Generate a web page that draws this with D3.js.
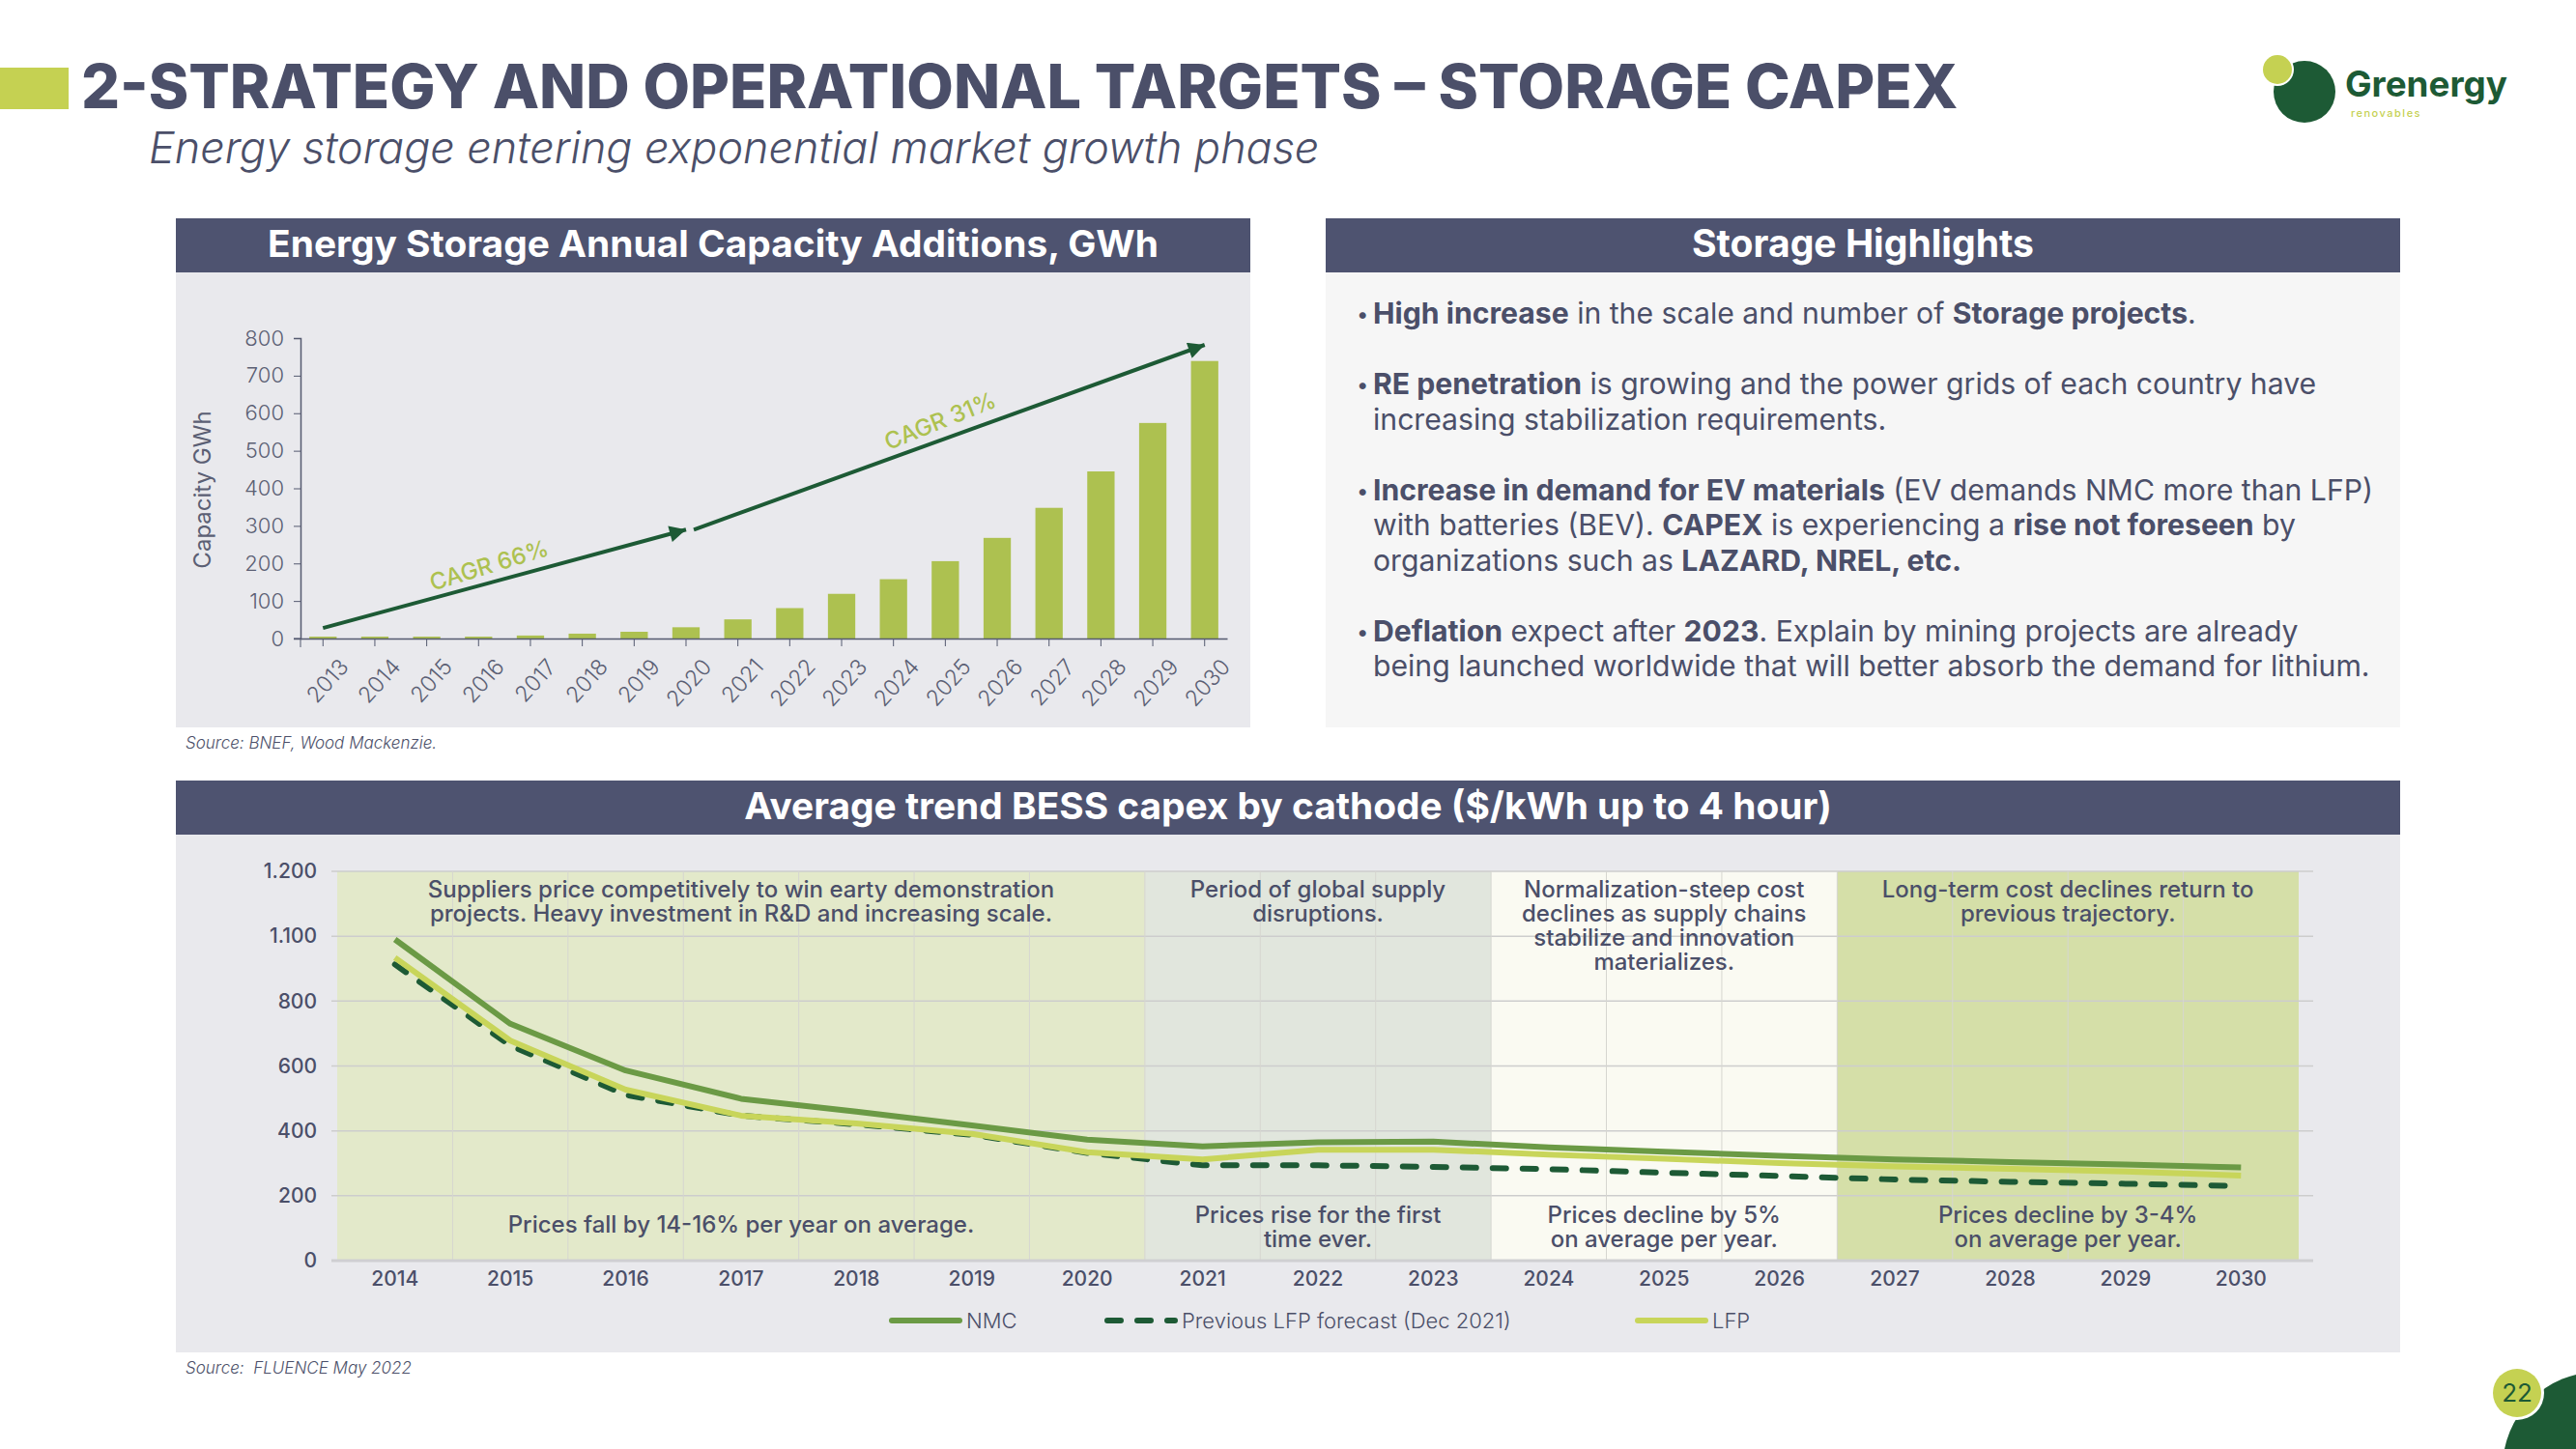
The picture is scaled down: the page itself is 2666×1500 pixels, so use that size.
<!DOCTYPE html>
<html>
<head>
<meta charset="utf-8">
<script src="https://cdn.jsdelivr.net/npm/d3@7"></script>
<style>
  html, body { margin: 0; padding: 0; background: #ffffff; }
  svg { display: block; }
  text { font-family: Inter, Lato, "Open Sans", sans-serif; white-space: pre; }
</style>
</head>
<body>
<svg id="chart" width="2666" height="1500"></svg>
<script>
// ---------------- DATA ----------------
const pageTitle = "2-STRATEGY AND OPERATIONAL TARGETS – STORAGE CAPEX";
const pageSubtitle = "Energy storage entering exponential market growth phase";

// Bar chart: Energy Storage Annual Capacity Additions, GWh
const barTitle = "Energy Storage Annual Capacity Additions, GWh";
const barYears = ["2013","2014","2015","2016","2017","2018","2019","2020","2021","2022","2023","2024","2025","2026","2027","2028","2029","2030"];
const barCapacity = [5, 5, 5, 5, 8, 13, 18, 30, 51, 81, 119, 158, 206, 268, 348, 445, 574, 739];
const barYTicks = [0, 100, 200, 300, 400, 500, 600, 700, 800];
const barYLabel = "Capacity GWh";
const cagrArrowFrom = [[2013, 28], [2020.15, 290]];
const cagrArrowTo = [[2020, 290], [2030, 782]];
const cagrLabels = ["CAGR 66%", "CAGR 31%"];
const cagrLabelPos = [[2016.2, 195], [2024.9, 580]];
const barSource = "Source: BNEF, Wood Mackenzie.";

// Highlights
const highlightsTitle = "Storage Highlights";
const highlights = [
  [[["High increase", 1], [" in the scale and number of ", 0], ["Storage projects", 1], [".", 0]]],
  [[["RE penetration", 1], [" is growing and the power grids of each country have", 0]],
   [["increasing stabilization requirements.", 0]]],
  [[["Increase in demand for EV materials", 1], [" (EV demands NMC more than LFP)", 0]],
   [["with batteries (BEV). ", 0], ["CAPEX", 1], [" is experiencing a ", 0], ["rise not foreseen", 1], [" by", 0]],
   [["organizations such as ", 0], ["LAZARD, NREL, etc.", 1]]],
  [[["Deflation", 1], [" expect after ", 0], ["2023", 1], [". Explain by mining projects are already", 0]],
   [["being launched worldwide that will better absorb the demand for lithium.", 0]]]
];

// Line chart: Average trend BESS capex by cathode
const lineTitle = "Average trend BESS capex by cathode ($/kWh up to 4 hour)";
const lineYears = ["2014","2015","2016","2017","2018","2019","2020","2021","2022","2023","2024","2025","2026","2027","2028","2029","2030"];
const nmc     = [990, 730, 586, 499, 459, 417, 373, 352, 365, 367, 349, 336, 323, 312, 304, 296, 287];
const lfp     = [934, 678, 527, 447, 423, 391, 334, 312, 342, 342, 327, 314, 301, 290, 283, 275, 262];
const prevLfp = [913, 663, 511, 447, 420, 388, 332, 294, 294, 289, 282, 271, 261, 250, 243, 237, 230];
const lineYTickValues = [0, 200, 400, 600, 800, 1000, 1200];
const lineYTickLabels = ["0", "200", "400", "600", "800", "1.100", "1.200"];
const seriesNames = ["NMC", "Previous LFP forecast (Dec 2021)", "LFP"];
const periodStart = ["2014", "2021", "2024", "2027"];
const periodEnd   = ["2020", "2023", "2026", "2030"];
const periodTopText = [
  ["Suppliers price competitively to win earty demonstration", "projects. Heavy investment in R&D and increasing scale."],
  ["Period of global supply", "disruptions."],
  ["Normalization-steep cost", "declines as supply chains", "stabilize and innovation", "materializes."],
  ["Long-term cost declines return to", "previous trajectory."]
];
const periodBottomText = [
  ["Prices fall by 14-16% per year on average."],
  ["Prices rise for the first", "time ever."],
  ["Prices decline by 5%", "on average per year."],
  ["Prices decline by 3-4%", "on average per year."]
];
const lineSource = "Source:  FLUENCE May 2022";
const pageNumber = "22";

// ---------------- STYLE ----------------
const C = {
  slate: "#4b4f69", header: "#4e5370", panel: "#e9e9ed", panel2: "#f6f6f6",
  lime: "#c5d152", barLime: "#adc150", darkGreen: "#1d5a35", midGreen: "#6b9a45",
  lfp: "#c8d55a", grid: "#cdcdcd", axisText: "#5b5f74",
  periods: ["#e3e9ca", "#e1e6dd", "#fafaf2", "#d5dfa8"]
};

const svg = d3.select("#chart");
svg.append("rect").attr("width", 2666).attr("height", 1500).attr("fill", "#fff");

function fitWidth(sel, target) {
  const w = sel.node().getComputedTextLength();
  const fs = parseFloat(sel.attr("font-size"));
  sel.attr("font-size", fs * target / w);
  return fs * target / w;
}

// ---------------- PAGE HEADER ----------------
svg.append("rect").attr("x", 0).attr("y", 70).attr("width", 71).attr("height", 43).attr("fill", C.lime);
const tt = svg.append("text").attr("x", 84).attr("y", 112).attr("font-size", 58)
  .attr("font-weight", 800).attr("fill", C.slate).text(pageTitle);
fitWidth(tt, 1943);
const st = svg.append("text").attr("x", 154).attr("y", 169).attr("font-size", 40)
  .attr("font-weight", 300).attr("font-style", "italic").attr("fill", C.slate).text(pageSubtitle);
fitWidth(st, 1212);

// Logo
svg.append("circle").attr("cx", 2385).attr("cy", 95).attr("r", 32).attr("fill", C.darkGreen);
svg.append("circle").attr("cx", 2357).attr("cy", 72).attr("r", 17).attr("fill", "#fff");
svg.append("circle").attr("cx", 2357).attr("cy", 72).attr("r", 15).attr("fill", C.lime);
const lg = svg.append("text").attr("x", 2427).attr("y", 100).attr("font-size", 34)
  .attr("font-weight", 700).attr("fill", C.darkGreen).text("Grenergy");
fitWidth(lg, 168);
svg.append("text").attr("x", 2433).attr("y", 121).attr("font-size", 11)
  .attr("font-weight", 500).attr("fill", C.lime).attr("letter-spacing", 1.5).text("renovables");

// ---------------- PANELS ----------------
function panel(x, y, w, h, hh, title, bodyColor, titleW) {
  svg.append("rect").attr("x", x).attr("y", y + hh).attr("width", w).attr("height", h - hh).attr("fill", bodyColor);
  svg.append("rect").attr("x", x).attr("y", y).attr("width", w).attr("height", hh).attr("fill", C.header);
  const t = svg.append("text").attr("x", x + w / 2).attr("y", y + hh / 2 + 12).attr("text-anchor", "middle")
    .attr("font-size", 34).attr("font-weight", 700).attr("fill", "#fff").text(title);
  fitWidth(t, titleW);
}
panel(182, 226, 1112, 527, 56, barTitle, C.panel, 922);
panel(1372, 226, 1112, 527, 56, highlightsTitle, C.panel2, 354);
panel(182, 808, 2302, 592, 56, lineTitle, C.panel, 1126);

// ---------------- BAR CHART ----------------
const bx = d3.scaleBand().domain(barYears).range([311, 1270]).paddingInner(0.473).paddingOuter(0.17);
const by = d3.scaleLinear().domain([0, 800]).range([661, 350]);
const yearPos = v => {
  const base = Math.floor(v), frac = v - base;
  return bx(String(base)) + bx.bandwidth() / 2 + frac * bx.step();
};

const gb = svg.append("g");
gb.selectAll("rect.bar").data(barYears).join("rect").attr("class", "bar")
  .attr("x", d => bx(d)).attr("width", bx.bandwidth())
  .attr("y", (d, i) => by(barCapacity[i])).attr("height", (d, i) => by(0) - by(barCapacity[i]))
  .attr("fill", C.barLime);

const yAx = gb.append("g").attr("transform", "translate(311,0)")
  .call(d3.axisLeft(by).tickValues(barYTicks).tickSize(7).tickPadding(10));
yAx.select(".domain").attr("stroke", "#555a70").attr("stroke-width", 1.5);
yAx.selectAll(".tick line").attr("stroke", "#555a70");
yAx.selectAll(".tick text").attr("font-size", 22).attr("font-weight", 300).attr("fill", C.axisText)
  .attr("font-family", "Inter, Lato, sans-serif");

const xAx = gb.append("g").attr("transform", "translate(0,661)")
  .call(d3.axisBottom(bx).tickSize(8).tickSizeOuter(0).tickPadding(8));
xAx.select(".domain").attr("stroke", "#555a70").attr("stroke-width", 1.5);
xAx.selectAll(".tick line").attr("stroke", "#555a70");
xAx.selectAll(".tick text").attr("font-size", 23).attr("font-weight", 300).attr("fill", C.axisText)
  .attr("font-family", "Inter, Lato, sans-serif")
  .attr("text-anchor", "end").attr("dy", "0.35em")
  .attr("transform", "translate(10,14) rotate(-48)");
gb.append("line").attr("x1", 304).attr("x2", 311).attr("y1", 661).attr("y2", 661).attr("stroke", "#555a70");
gb.append("line").attr("x1", 311).attr("x2", 311).attr("y1", 661).attr("y2", 670).attr("stroke", "#555a70");

gb.append("text").attr("transform", "translate(218,507) rotate(-90)").attr("text-anchor", "middle")
  .attr("font-size", 24).attr("font-weight", 400).attr("fill", C.axisText).text(barYLabel);

svg.append("defs").append("marker").attr("id", "arrow").attr("viewBox", "0 0 10 10")
  .attr("refX", 10).attr("refY", 5).attr("markerUnits", "userSpaceOnUse")
  .attr("markerWidth", 20).attr("markerHeight", 17).attr("orient", "auto")
  .append("path").attr("d", "M0,0 L10,5 L0,10 Z").attr("fill", C.darkGreen);

cagrArrowFrom.forEach((f, i) => {
  const t = cagrArrowTo[i];
  gb.append("line").attr("x1", yearPos(f[0])).attr("y1", by(f[1]))
    .attr("x2", yearPos(t[0])).attr("y2", by(t[1]))
    .attr("stroke", C.darkGreen).attr("stroke-width", 4).attr("marker-end", "url(#arrow)");
});
const cagrRot = [-17, -22];
cagrLabels.forEach((lab, i) => {
  gb.append("text").attr("transform", `translate(${yearPos(cagrLabelPos[i][0])},${by(cagrLabelPos[i][1])}) rotate(${cagrRot[i]})`)
    .attr("text-anchor", "middle").attr("dy", "0.35em").attr("font-size", 24).attr("font-weight", 500)
    .attr("fill", C.barLime).text(lab);
});

svg.append("text").attr("x", 192).attr("y", 775).attr("font-size", 17).attr("font-style", "italic")
  .attr("font-weight", 300).attr("fill", C.slate).text(barSource);

// ---------------- HIGHLIGHTS ----------------
const hl = svg.append("g");
const lineGap = 36.5, paraGap = 73;
let yy = 335;
const lineNodes = [];
highlights.forEach(par => {
  hl.append("text").attr("x", 1404).attr("y", yy - 2).attr("font-size", 22).attr("fill", C.slate).text("•");
  par.forEach((ln, j) => {
    const t = hl.append("text").attr("x", 1421).attr("y", yy).attr("font-size", 29).attr("fill", C.slate);
    ln.forEach(seg => t.append("tspan").attr("font-weight", seg[1] ? 700 : 400).text(seg[0]));
    lineNodes.push(t);
    if (j < par.length - 1) yy += lineGap;
  });
  yy += paraGap;
});
// fit using the longest line
const refLine = lineNodes[lineNodes.length - 1];
const hfs = fitWidth(refLine, 1032);
lineNodes.forEach(t => t.attr("font-size", hfs));

// ---------------- LINE CHART ----------------
const lx = d3.scaleBand().domain(lineYears).range([349, 2379]).padding(0);
const ly = d3.scaleLinear().domain([0, 1200]).range([1305, 902]);
const cx = d => lx(d) + lx.bandwidth() / 2;
const gl = svg.append("g");

periodStart.forEach((s, i) => {
  const x0 = lx(s), x1 = lx(periodEnd[i]) + lx.bandwidth();
  gl.append("rect").attr("x", x0).attr("width", x1 - x0).attr("y", ly(1200)).attr("height", ly(0) - ly(1200))
    .attr("fill", C.periods[i]);
});
// horizontal grid
gl.selectAll("line.hg").data(lineYTickValues.slice(1)).join("line").attr("class", "hg")
  .attr("x1", 343).attr("x2", 2394).attr("y1", d => ly(d)).attr("y2", d => ly(d))
  .attr("stroke", C.grid).attr("stroke-width", 1.5);
// vertical grid at band boundaries
gl.selectAll("line.vg").data(lineYears.slice(1)).join("line").attr("class", "vg")
  .attr("x1", d => lx(d)).attr("x2", d => lx(d)).attr("y1", ly(1200)).attr("y2", ly(0))
  .attr("stroke", "#d6d6d0").attr("stroke-width", 1);
gl.append("line").attr("x1", 343).attr("x2", 2394).attr("y1", ly(0)).attr("y2", ly(0))
  .attr("stroke", "#cfcfd2").attr("stroke-width", 3);

// axes labels
const ly2 = gl.append("g").attr("transform", "translate(343,0)")
  .call(d3.axisLeft(ly).tickValues(lineYTickValues).tickFormat((d, i) => lineYTickLabels[i]).tickSize(0).tickPadding(15));
ly2.select(".domain").remove();
ly2.selectAll(".tick text").attr("font-size", 21).attr("font-weight", 500).attr("fill", C.slate)
  .attr("font-family", "Inter, Lato, sans-serif");
const lx2 = gl.append("g").attr("transform", "translate(0,1305)")
  .call(d3.axisBottom(lx).tickSize(0).tickPadding(11));
lx2.select(".domain").remove();
lx2.selectAll(".tick text").attr("font-size", 21).attr("font-weight", 500).attr("fill", C.slate)
  .attr("font-family", "Inter, Lato, sans-serif");

// annotations
let annFs = 24;
periodStart.forEach((s, i) => {
  const x0 = lx(s), x1 = lx(periodEnd[i]) + lx.bandwidth(), mid = (x0 + x1) / 2;
  const t = gl.append("text").attr("x", mid).attr("y", 929).attr("text-anchor", "middle")
    .attr("font-size", annFs).attr("font-weight", 500).attr("fill", C.slate);
  periodTopText[i].forEach((l, k) => t.append("tspan").attr("x", mid).attr("dy", k ? 25 : 0).text(l));
  const b = gl.append("text").attr("x", mid).attr("y", periodBottomText[i].length > 1 ? 1266 : 1276)
    .attr("text-anchor", "middle").attr("font-size", annFs).attr("font-weight", 500).attr("fill", C.slate);
  periodBottomText[i].forEach((l, k) => b.append("tspan").attr("x", mid).attr("dy", k ? 25 : 0).text(l));
});

const lineGen = arr => d3.line().x((d, i) => cx(lineYears[i])).y(d => ly(d))(arr);
gl.append("path").attr("d", lineGen(prevLfp)).attr("fill", "none").attr("stroke", C.darkGreen)
  .attr("stroke-width", 6).attr("stroke-dasharray", "14,17").attr("stroke-linecap", "round");
gl.append("path").attr("d", lineGen(lfp)).attr("fill", "none").attr("stroke", C.lfp)
  .attr("stroke-width", 6).attr("stroke-linejoin", "round");
gl.append("path").attr("d", lineGen(nmc)).attr("fill", "none").attr("stroke", C.midGreen)
  .attr("stroke-width", 6).attr("stroke-linejoin", "round");

// legend
const legX = [920, 1143, 1692];
const legStroke = [C.midGreen, C.darkGreen, C.lfp];
const legDash = [null, "14,17", null];
seriesNames.forEach((n, i) => {
  gl.append("line").attr("x1", legX[i] + 3).attr("x2", legX[i] + 73).attr("y1", 1367).attr("y2", 1367)
    .attr("stroke", legStroke[i]).attr("stroke-width", 6).attr("stroke-linecap", "round")
    .attr("stroke-dasharray", legDash[i]);
  gl.append("text").attr("x", legX[i] + 80).attr("y", 1375).attr("font-size", 22).attr("font-weight", 300)
    .attr("fill", C.slate).text(n);
});

svg.append("text").attr("x", 192).attr("y", 1422).attr("font-size", 17).attr("font-style", "italic")
  .attr("font-weight", 300).attr("fill", C.slate).text(lineSource);

// page number
svg.append("circle").attr("cx", 2690).attr("cy", 1520).attr("r", 100).attr("fill", C.darkGreen);
svg.append("circle").attr("cx", 2605).attr("cy", 1442).attr("r", 28).attr("fill", "#fff");
svg.append("circle").attr("cx", 2605).attr("cy", 1442).attr("r", 25).attr("fill", C.lime);
svg.append("text").attr("x", 2605).attr("y", 1451).attr("text-anchor", "middle").attr("font-size", 26)
  .attr("font-weight", 400).attr("fill", C.darkGreen).text(pageNumber);
</script>
</body>
</html>
